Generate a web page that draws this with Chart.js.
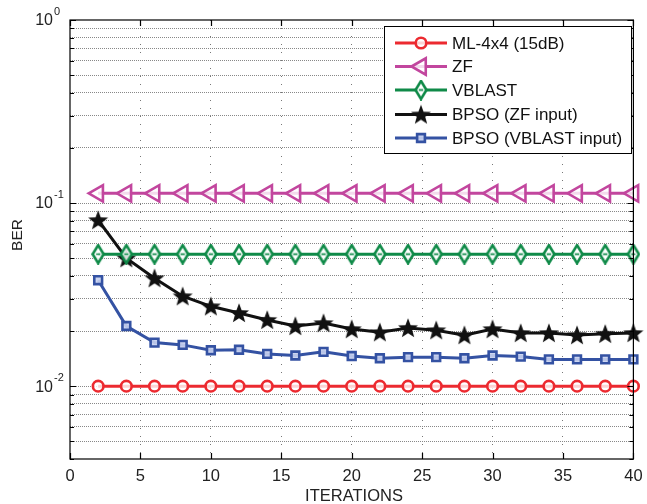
<!DOCTYPE html>
<html>
<head>
<meta charset="utf-8">
<script src="https://cdn.jsdelivr.net/npm/chart.js@4.4.1/dist/chart.umd.min.js"></script>
<style>
  html, body { margin: 0; background: #fff; }
  #c { display: block; }
</style>
</head>
<body>
<canvas id="c" width="647" height="504"></canvas>
<script>
// data
const iterations = [2, 4, 6, 8, 10, 12, 14, 16, 18, 20, 22, 24, 26, 28, 30, 32, 34, 36, 38, 40];
const mlBer = [0.0100, 0.0100, 0.0100, 0.0100, 0.0100, 0.0100, 0.0100, 0.0100, 0.0100, 0.0100,
               0.0100, 0.0100, 0.0100, 0.0100, 0.0100, 0.0100, 0.0100, 0.0100, 0.0100, 0.0100];
const zfBer = [0.113, 0.113, 0.113, 0.113, 0.113, 0.113, 0.113, 0.113, 0.113, 0.113,
               0.113, 0.113, 0.113, 0.113, 0.113, 0.113, 0.113, 0.113, 0.113, 0.113];
const vblastBer = [0.0526, 0.0526, 0.0526, 0.0526, 0.0526, 0.0526, 0.0526, 0.0526, 0.0526, 0.0526,
                   0.0526, 0.0526, 0.0526, 0.0526, 0.0526, 0.0526, 0.0526, 0.0526, 0.0526, 0.0526];
const bpsoZfBer = [0.0807, 0.0500, 0.0389, 0.0310, 0.0273, 0.0251, 0.0230, 0.0213, 0.0221, 0.0205,
                   0.0197, 0.0208, 0.0202, 0.0190, 0.0205, 0.0195, 0.0195, 0.0190, 0.0193, 0.0195];
const bpsoVblastBer = [0.0379, 0.0213, 0.0173, 0.0168, 0.0157, 0.0158, 0.0150, 0.0147, 0.0154, 0.0146,
                       0.0142, 0.0144, 0.0144, 0.0142, 0.0147, 0.0145, 0.0140, 0.0140, 0.0140, 0.0140];
const seriesNames = ['ML-4x4 (15dB)', 'ZF', 'VBLAST', 'BPSO (ZF input)', 'BPSO (VBLAST input)'];
const xTicks = [0, 5, 10, 15, 20, 25, 30, 35, 40];
const yDecades = [1, 0.1, 0.01];
const yDecadeExp = ['0', '-1', '-2'];
const yGrid = [0.004, 0.005, 0.006, 0.007, 0.008, 0.009,
               0.01, 0.02, 0.03, 0.04, 0.05, 0.06, 0.07, 0.08, 0.09,
               0.1, 0.2, 0.3, 0.4, 0.5, 0.6, 0.7, 0.8, 0.9, 1];

const FONT = '"Liberation Sans", Arial, Helvetica, sans-serif';

// filled star marker
function makeStar(size, color){
  const cv = document.createElement('canvas');
  cv.width = size; cv.height = size;
  const g = cv.getContext('2d');
  const cx = size/2, cy = size/2 + 0.8, ro = size/2 - 0.5, ri = ro*0.42;
  g.beginPath();
  for(let i=0;i<10;i++){
    const r = i%2 ? ri : ro;
    const a = -Math.PI/2 + i*Math.PI/5;
    g.lineTo(cx + r*Math.cos(a), cy + r*Math.sin(a));
  }
  g.closePath();
  g.fillStyle = color;
  g.fill();
  return cv;
}
// tall hollow diamond (matlab 'd' marker)
function makeDiamond(w, h, color){
  const cv = document.createElement('canvas');
  cv.width = w; cv.height = h;
  const g = cv.getContext('2d');
  g.beginPath();
  g.moveTo(w/2, 1.5); g.lineTo(w-1.5, h/2); g.lineTo(w/2, h-1.5); g.lineTo(1.5, h/2);
  g.closePath();
  g.fillStyle = 'rgba(255,255,255,0.85)';
  g.fill();
  g.lineWidth = 2.6; g.strokeStyle = color; g.lineJoin = 'miter';
  g.stroke();
  g.beginPath(); g.moveTo(w/2-2, h/2); g.lineTo(w/2+2, h/2); g.lineWidth = 1.5; g.stroke();
  return cv;
}

const RED = '#ec2a30', MAG = '#c2469e', GRN = '#0f8a48', BLK = '#111', BLU = '#3452a3';
const starImg = makeStar(22, BLK);
const diamondImg = makeDiamond(14, 21, GRN);

function ds(label, data, color, style, radius, extra){
  return Object.assign({
    label, data: data.map((v,i)=>({x: iterations[i], y: v})),
    borderColor: color, backgroundColor: color, borderWidth: 3,
    pointStyle: style, pointRadius: radius, pointHoverRadius: radius,
    pointBorderColor: color, pointBackgroundColor: 'rgba(255,255,255,0.8)',
    pointBorderWidth: 2.6, tension: 0, clip: false
  }, extra || {});
}

const datasets = [
  ds(seriesNames[0], mlBer, RED, 'circle', 5.3),
  ds(seriesNames[1], zfBer, MAG, 'triangle', 9.5, {pointRotation: -90}),
  ds(seriesNames[2], vblastBer, GRN, diamondImg, 10),
  ds(seriesNames[3], bpsoZfBer, BLK, starImg, 11),
  ds(seriesNames[4], bpsoVblastBer, BLU, 'rect', 5.5, {pointBackgroundColor: 'rgba(200,210,240,0.9)'})
];

const decor = {
  id: 'decor',
  afterDatasetsDraw(chart){
    const ctx = chart.ctx, a = chart.chartArea;
    const xs = chart.scales.x, ys = chart.scales.y;
    ctx.save();
    // frame
    ctx.strokeStyle = '#000'; ctx.lineWidth = 1.2; ctx.setLineDash([]);
    ctx.strokeRect(a.left, a.top, a.right - a.left, a.bottom - a.top);
    // inward ticks
    ctx.beginPath();
    xTicks.forEach(v=>{
      const px = Math.round(xs.getPixelForValue(v)) + 0.5;
      ctx.moveTo(px, a.bottom); ctx.lineTo(px, a.bottom - 6);
      ctx.moveTo(px, a.top); ctx.lineTo(px, a.top + 6);
    });
    yGrid.forEach(v=>{
      const py = Math.round(ys.getPixelForValue(v)) + 0.5;
      const len = yDecades.includes(v) ? 6 : 4;
      ctx.moveTo(a.left, py); ctx.lineTo(a.left + len, py);
      ctx.moveTo(a.right, py); ctx.lineTo(a.right - len, py);
    });
    ctx.stroke();
    // y decade labels
    ctx.fillStyle = '#222';
    yDecades.forEach((v,i)=>{
      const py = ys.getPixelForValue(v);
      ctx.font = '16px ' + FONT;
      ctx.textAlign = 'right'; ctx.textBaseline = 'middle';
      ctx.fillText('10', 53, py + 1);
      ctx.font = '11px ' + FONT;
      ctx.textAlign = 'left';
      ctx.fillText(yDecadeExp[i], 54, py - 8);
    });
    // axis titles
    ctx.font = '16.5px ' + FONT;
    ctx.textAlign = 'center'; ctx.textBaseline = 'middle';
    ctx.fillText('ITERATIONS', 354, 496);
    ctx.font = '15.5px ' + FONT;
    ctx.translate(18, 235);
    ctx.rotate(-Math.PI/2);
    ctx.fillText('BER', 0, 0);
    ctx.restore();

    // legend box
    ctx.save();
    ctx.fillStyle = '#fff';
    ctx.fillRect(384, 26, 247, 127);
    ctx.strokeStyle = '#000'; ctx.lineWidth = 1;
    ctx.strokeRect(384.5, 26.5, 247, 127);
    const rows = [43, 66.5, 90, 114.5, 138];
    chart.data.datasets.forEach((d,i)=>{
      const y = rows[i];
      ctx.strokeStyle = d.borderColor; ctx.lineWidth = 3;
      ctx.beginPath(); ctx.moveTo(395, y); ctx.lineTo(447, y); ctx.stroke();
      ctx.fillStyle = d.pointBackgroundColor; ctx.lineWidth = d.pointBorderWidth;
      Chart.helpers.drawPoint(ctx, {
        pointStyle: d.pointStyle, radius: d.pointRadius,
        rotation: d.pointRotation || 0, borderWidth: d.pointBorderWidth
      }, 421, y);
      ctx.fillStyle = '#111';
      ctx.font = '17px ' + FONT;
      ctx.textAlign = 'left'; ctx.textBaseline = 'middle';
      ctx.fillText(d.label, 452, y + 1);
    });
    ctx.restore();
  }
};

new Chart(document.getElementById('c'), {
  type: 'line',
  data: { datasets },
  options: {
    responsive: false,
    animation: false,
    devicePixelRatio: 1,
    layout: { padding: { top: 20, right: 7, left: 0, bottom: 0 } },
    plugins: { legend: { display: false }, tooltip: { enabled: false } },
    scales: {
      x: {
        type: 'linear', min: 0, max: 40,
        afterBuildTicks: s => { s.ticks = xTicks.map(v => ({value: v})); },
        ticks: { color: '#222', font: { size: 16.5, family: FONT }, padding: 8, maxRotation: 0, autoSkip: false },
        grid: {
          drawTicks: false,
          color: c => (c.tick && (c.tick.value === 0 || c.tick.value === 40)) ? 'rgba(0,0,0,0)' : '#777',
          lineWidth: 1
        },
        border: { display: false, dash: [1, 7] },
        afterFit: s => { s.height = 45; s.paddingLeft = 0; s.paddingRight = 0; }
      },
      y: {
        type: 'logarithmic', min: 0.004, max: 1,
        afterBuildTicks: s => { s.ticks = yGrid.map(v => ({value: v, major: yDecades.includes(v)})); },
        ticks: { display: false },
        grid: {
          drawTicks: false,
          color: c => (c.tick && (c.tick.value === 1 || c.tick.value === 0.004)) ? 'rgba(0,0,0,0)' : '#888',
          lineWidth: 1
        },
        border: { display: false, dash: [1, 1] },
        afterFit: s => { s.width = 70; s.paddingTop = 0; s.paddingBottom = 0; }
      }
    }
  },
  plugins: [decor]
});
</script>
</body>
</html>
